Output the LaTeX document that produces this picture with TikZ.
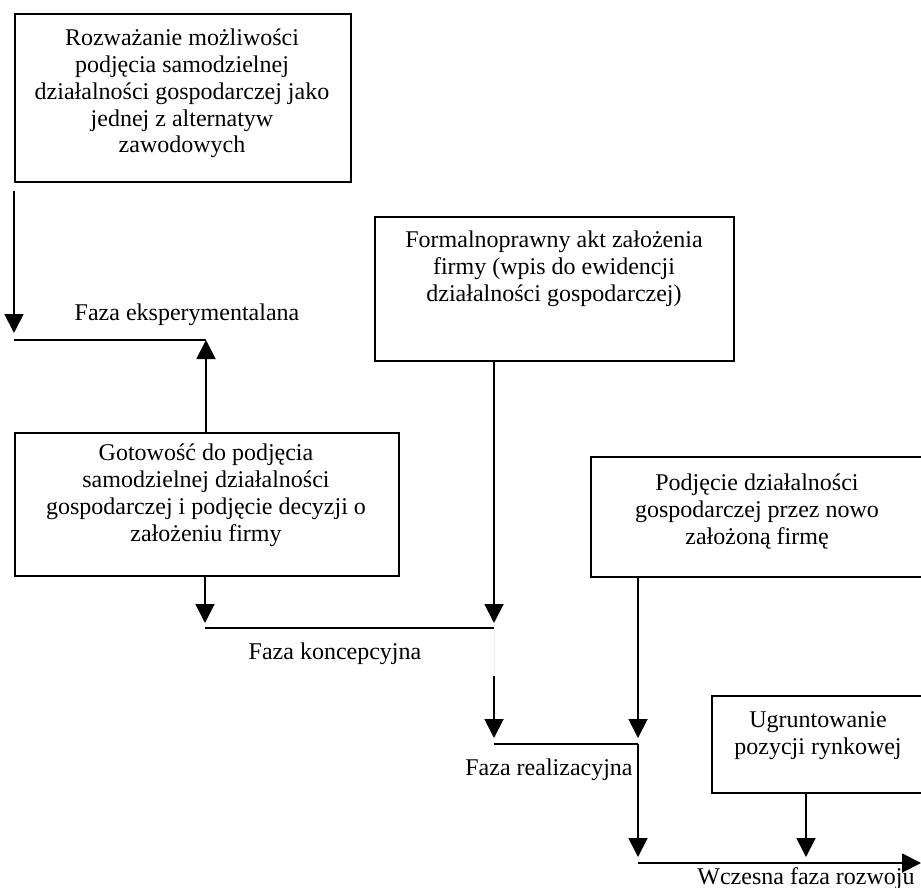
\documentclass[tikz,border=0pt]{standalone}
\usepackage{fontspec}
\setmainfont{Liberation Serif}
\usetikzlibrary{arrows.meta}
\begin{document}
\begin{tikzpicture}[x=1pt,y=-1pt,
  box/.style={draw,line width=1.9pt,inner sep=0pt,anchor=north west},
  txt/.style={anchor=north,inner sep=0pt,align=center,font=\fontsize{24}{26.8}\selectfont},
  lbl/.style={anchor=base,inner sep=0pt,font=\fontsize{24}{26.8}\selectfont},
  conn/.style={line width=1.9pt},
  arr/.style={line width=1.9pt,-{Triangle[length=19pt,width=19pt]}}]
\useasboundingbox (0,0) rectangle (921,888);
% boxes
\node[box,minimum width=336pt,minimum height=168pt] (b1) at (14,13) {};
\node[box,minimum width=359pt,minimum height=144pt] (b2) at (374,216) {};
\node[box,minimum width=384pt,minimum height=143pt] (b3) at (14,432) {};
\node[box,minimum width=334pt,minimum height=120pt] (b4) at (590,456) {};
\node[box,minimum width=214pt,minimum height=97pt] (b5) at (711,695) {};
% box texts (first baseline = north - 20)
\node[txt] (t1) at (182,25.5) {\rule{0pt}{20pt}Rozważanie możliwości\\podjęcia samodzielnej\\działalności gospodarczej jako\\jednej z alternatyw\\zawodowych};
\node[txt] (t2) at (554,227.5) {\rule{0pt}{20pt}Formalnoprawny akt założenia\\firmy (wpis do ewidencji\\działalności gospodarczej)};
\node[txt] (t3) at (206,440.5) {\rule{0pt}{20pt}Gotowość do podjęcia\\samodzielnej działalności\\gospodarczej i podjęcie decyzji o\\założeniu firmy};
\node[txt] (t4) at (757,470.5) {\rule{0pt}{20pt}Podjęcie działalności\\gospodarczej przez nowo\\założoną firmę};
\node[txt] (t5) at (818,707.5) {\rule{0pt}{20pt}Ugruntowanie\\pozycji rynkowej};
% phase labels
\node[lbl] (f1) at (187,320) {Faza eksperymentalana};
\node[lbl] (f2) at (335,659) {Faza koncepcyjna};
\node[lbl] (f3) at (549,775) {Faza realizacyjna};
\node[lbl] (f4) at (806,884) {Wczesna faza rozwoju};
% coordinates
\coordinate (a1s) at (14,191);
\coordinate (a1e) at (14,333);
\coordinate (j1a) at (14,340);
\coordinate (j1b) at (206,340);
\coordinate (b3top) at (206,432);
\coordinate (b2bot) at (494,360);
\coordinate (a2e) at (494,623);
\coordinate (b3bot) at (205,575);
\coordinate (a3e) at (205,623);
\coordinate (k1) at (205,628);
\coordinate (k2) at (494,628);
\coordinate (g1) at (494,676);
\coordinate (a4e) at (494,738);
\coordinate (r1) at (494,744);
\coordinate (r2) at (638,744);
\coordinate (b4bot) at (638,576);
\coordinate (a5e) at (638,738);
\coordinate (a6e) at (638,857);
\coordinate (b5bot) at (806,792);
\coordinate (a7e) at (806,857);
\coordinate (w1) at (638,863);
\coordinate (w2) at (921,863);
% connectors
\draw[arr] (a1s) -- (a1e);
\draw[conn] (j1a) -- (j1b);
\draw[arr] (b3top) -- (j1b);
\draw[arr] (b2bot) -- (a2e);
\draw[arr] (b3bot) -- (a3e);
\draw[conn] (k1) -- (k2);
\draw[gray!15,line width=0.8pt] (k2) -- (g1);
\draw[arr] (g1) -- (a4e);
\draw[conn] (r1) -- (r2);
\draw[arr] (b4bot) -- (a5e);
\draw[arr] (r2) -- (a6e);
\draw[arr] (b5bot) -- (a7e);
\draw[arr] (w1) -- (w2);
\end{tikzpicture}
\end{document}
